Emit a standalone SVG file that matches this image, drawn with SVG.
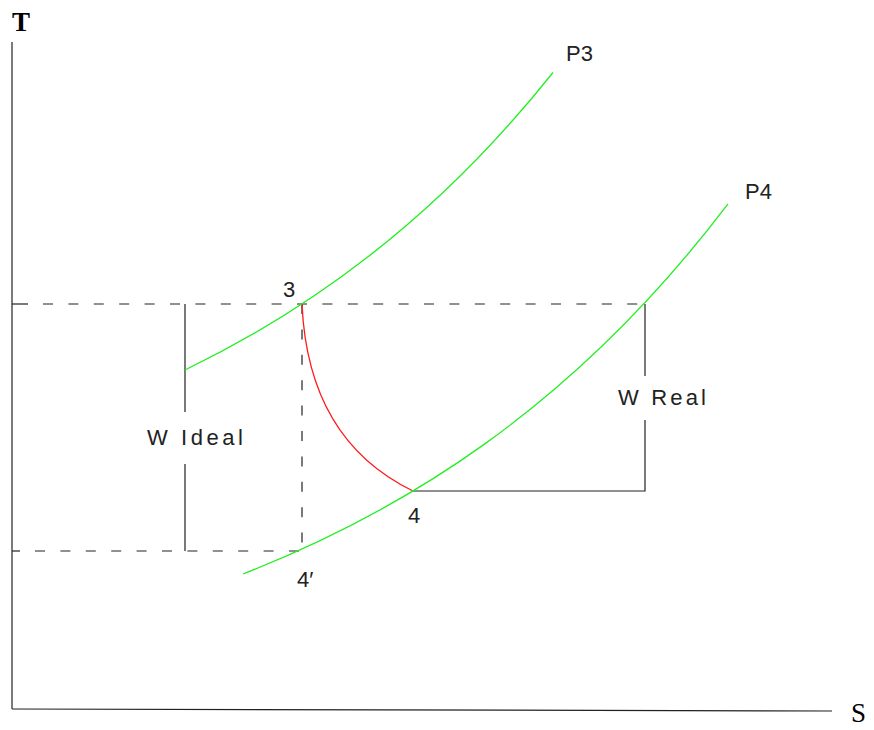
<svg xmlns="http://www.w3.org/2000/svg" width="874" height="730" viewBox="0 0 874 730">
<style>
.ax{stroke:#222;stroke-width:1.2;fill:none}
.ln{stroke:#222;stroke-width:1.2;fill:none}
.dash{stroke:#222;stroke-width:1.2;fill:none;stroke-dasharray:10 15.4}
.iso{stroke:#22ee22;stroke-width:1.3;fill:none}
.proc{stroke:#ff1a1a;stroke-width:1.3;fill:none}
.lbl{font-family:"Liberation Sans",Arial,sans-serif;font-size:22px;fill:#222}
.axl{font-family:"Liberation Serif","Times New Roman",serif;font-size:27px;fill:#000}
</style>
<rect width="874" height="730" fill="#fff"/>
<g id="axes">
<line class="ax" x1="12" y1="42" x2="12" y2="709"/>
<line class="ax" x1="12" y1="709" x2="832" y2="711"/>
<text class="axl" x="12" y="31" font-weight="bold">T</text>
<text class="axl" x="851" y="722">S</text>
</g>
<g id="connectors">
<path class="ln" d="M12 304 H28"/>
<path class="dash" d="M43 304 H645"/>
<path class="ln" d="M12 551 H20"/>
<path class="dash" d="M35 551 H302"/>
<path class="dash" d="M302 304 V551"/>
<path class="ln" d="M185 304 V412 M185 464 V551"/>
<path class="ln" d="M645 304 V376 M645 420 V491 H413"/>
<path class="proc" d="M302 304 Q308 440 413 491"/>
</g>
<g id="P3">
<path class="iso" d="M185 370 C246.3 340.4 307.7 303.9 369 256.1 C430.3 208.4 491.7 149.5 553 72.5"/>
<text class="lbl" x="566" y="61">P3</text>
</g>
<g id="P4">
<path class="iso" d="M243 574 C323.8 542.3 404.7 501.5 485.5 443.4 C566.3 385.3 647.2 310.4 728 203.9"/>
<text class="lbl" x="745" y="199">P4</text>
</g>
<g id="state3"><text class="lbl" x="283" y="297">3</text></g>
<g id="state4"><text class="lbl" x="408" y="523">4</text></g>
<g id="state4p"><text class="lbl" x="297" y="587">4′</text></g>
<g id="wideal"><text class="lbl" x="147" y="445" textLength="96" lengthAdjust="spacing">W  Ideal</text></g>
<g id="wreal"><text class="lbl" x="618" y="405" textLength="88" lengthAdjust="spacing">W  Real</text></g>
</svg>
